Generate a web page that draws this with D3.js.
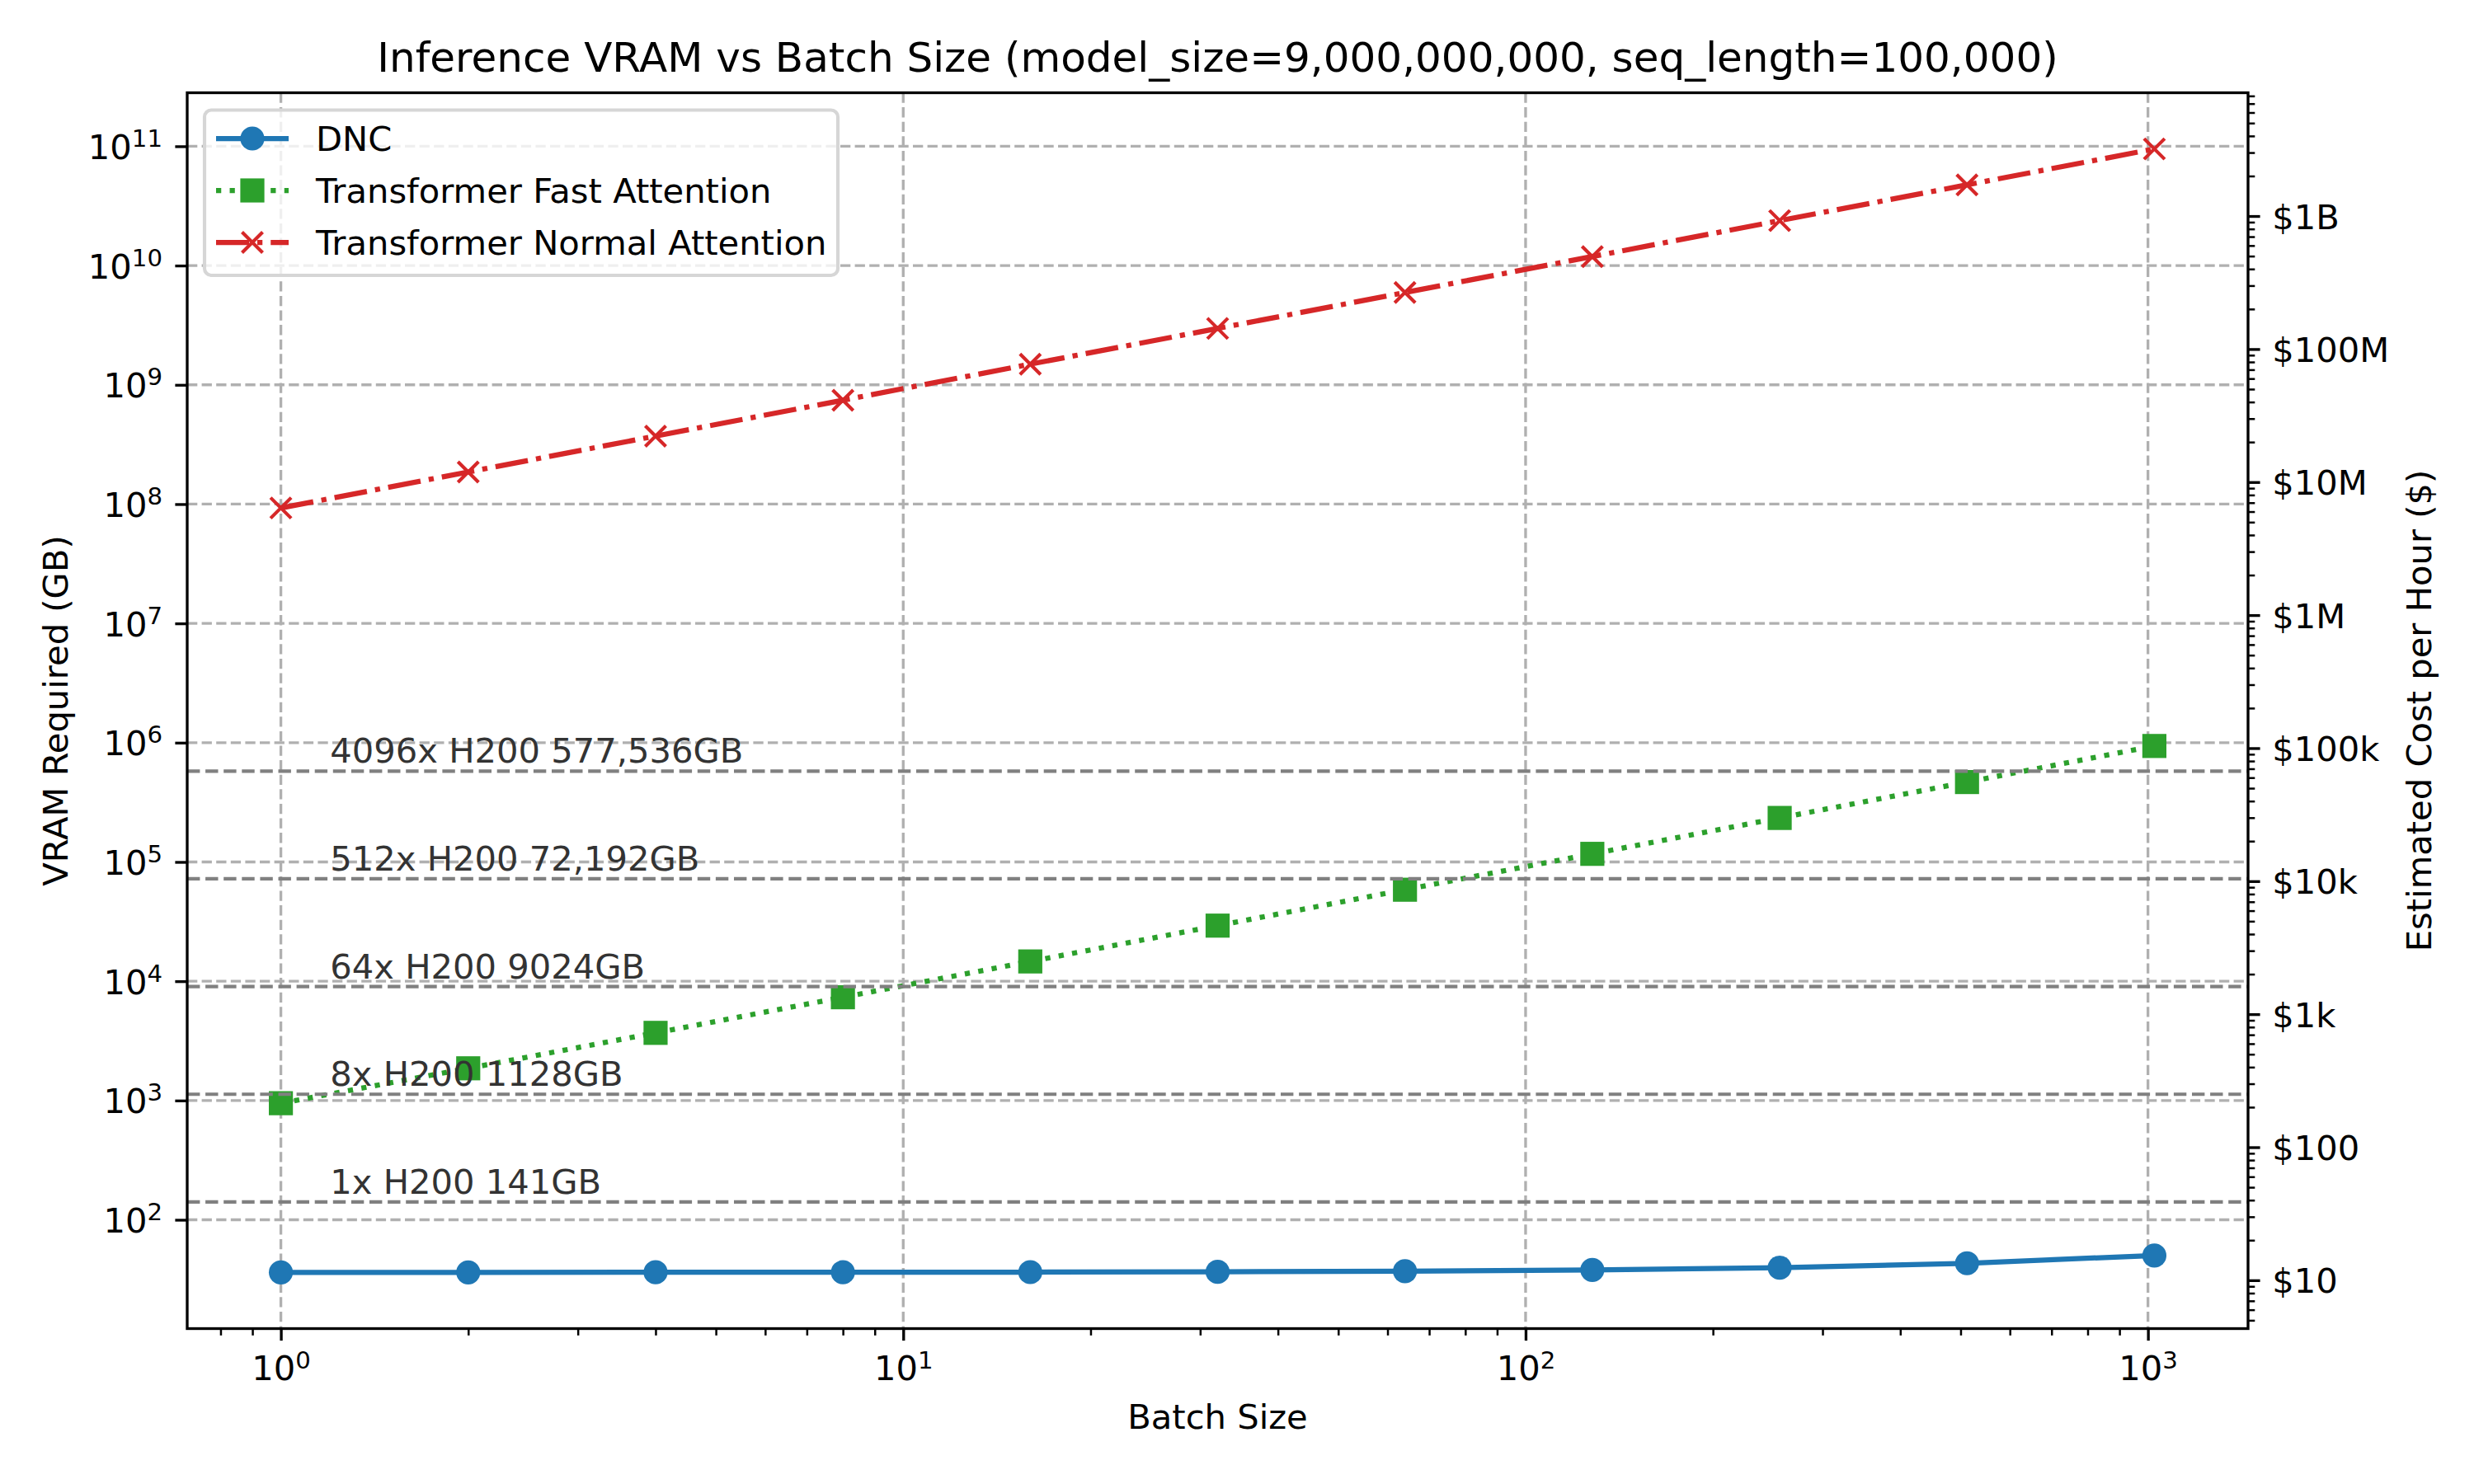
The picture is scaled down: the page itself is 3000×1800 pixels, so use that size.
<!DOCTYPE html>
<html>
<head>
<meta charset="utf-8">
<script src="https://cdn.jsdelivr.net/npm/d3@7"></script>
<style>
  body { margin: 0; background: white; }
</style>
</head>
<body>
<div id="chart"></div>
<script>
// values
const batch = [1, 2, 4, 8, 16, 32, 64, 128, 256, 512, 1024];
const dncVram = [36.2, 36.2, 36.3, 36.3, 36.4, 36.6, 37.1, 38.0, 39.7, 43.2, 50.2];
const fastVram = [949, 1862, 3690, 7340, 14650, 29250, 58500, 116900, 233800, 467500, 938000];
const normalVram = [9.28e7, 1.86e8, 3.72e8, 7.43e8, 1.49e9, 2.97e9, 5.94e9, 1.19e10, 2.38e10, 4.75e10, 9.5e10];

const seriesNames = ['DNC', 'Transformer Fast Attention', 'Transformer Normal Attention'];

const gpuVram = [141, 1128, 9024, 72192, 577536];
const gpuLabels = ['1x H200 141GB', '8x H200 1128GB', '64x H200 9024GB', '512x H200 72,192GB', '4096x H200 577,536GB'];

const batchTicks = [1, 10, 100, 1000];
const vramTicks = [1e2, 1e3, 1e4, 1e5, 1e6, 1e7, 1e8, 1e9, 1e10, 1e11];
const costTicks = [1e1, 1e2, 1e3, 1e4, 1e5, 1e6, 1e7, 1e8, 1e9];
const costTickLabels = ['$10', '$100', '$1k', '$10k', '$100k', '$1M', '$10M', '$100M', '$1B'];
const costRange = [4.33, 8.45e9];

const titleText = 'Inference VRAM vs Batch Size (model_size=9,000,000,000, seq_length=100,000)';

const margin = ({top: 112.5, left: 227, right: 274, bottom: 188.5});
const W = 3000, H = 1800;
const width = W - margin.left - margin.right;
const height = H - margin.top - margin.bottom;
const font = 'DejaVu Sans, sans-serif';
const fs = 41.67;

// log padding like matplotlib's 5% margins
function logPad(ext) {
    const a = Math.log10(ext[0]), b = Math.log10(ext[1]), p = (b - a) * 0.05;
    return [Math.pow(10, a - p), Math.pow(10, b + p)];
}

const allVram = dncVram.concat(fastVram, normalVram);

const x = d3.scaleLog()
    .domain(logPad(d3.extent(batch)))
    .range([0, width]);

const y = d3.scaleLog()
    .domain(logPad(d3.extent(allVram)))
    .range([height, 0]);

const cost = d3.scaleLog()
    .domain(costRange)
    .range([height, 0]);

function minorTicks(scale) {
    const [a, b] = scale.domain();
    const out = [];
    for (let e = Math.floor(Math.log10(a)); e <= Math.ceil(Math.log10(b)); e++) {
        for (let k = 2; k <= 9; k++) {
            const v = k * Math.pow(10, e);
            if (v >= a && v <= b) out.push(v);
        }
    }
    return out;
}

const svg = d3.select('#chart')
    .append('svg')
    .attr('width', W)
    .attr('height', H);

svg.append('rect').attr('width', W).attr('height', H).attr('fill', 'white');

const g = svg.append('g')
    .attr('transform', 'translate(' + margin.left + ',' + margin.top + ')');

// grid
g.append('g').attr('class', 'grid')
    .selectAll('line.v')
    .data(batchTicks)
    .join('line')
    .attr('x1', d => x(d)).attr('x2', d => x(d))
    .attr('y1', 0).attr('y2', height);

g.select('.grid')
    .selectAll('line.h')
    .data(vramTicks)
    .enter()
    .append('line')
    .attr('x1', 0).attr('x2', width)
    .attr('y1', d => y(d)).attr('y2', d => y(d));

g.selectAll('.grid line')
    .attr('stroke', '#b0b0b0')
    .attr('stroke-width', 3.33)
    .attr('stroke-dasharray', '12.3,5.3');

// series
const series = [
    {name: seriesNames[0], values: dncVram, color: '#1f77b4', dash: null, marker: 'circle'},
    {name: seriesNames[1], values: fastVram, color: '#2ca02c', dash: '6.25,10.3', marker: 'square'},
    {name: seriesNames[2], values: normalVram, color: '#d62728', dash: '40,10,6.25,10', marker: 'x'}
];

const line = d3.line()
    .x((d, i) => x(batch[i]))
    .y(d => y(d));

function marker(sel, type, color) {
    if (type === 'circle') {
        sel.append('circle').attr('r', 14.6).attr('fill', color);
    } else if (type === 'square') {
        sel.append('rect').attr('x', -14.6).attr('y', -14.6)
            .attr('width', 29.2).attr('height', 29.2).attr('fill', color);
    } else {
        sel.append('path').attr('d', 'M-12.5,-12.5L12.5,12.5M-12.5,12.5L12.5,-12.5')
            .attr('stroke', color).attr('stroke-width', 4.17).attr('fill', 'none');
    }
}

series.forEach(s => {
    g.append('path')
        .datum(s.values)
        .attr('d', line)
        .attr('fill', 'none')
        .attr('stroke', s.color)
        .attr('stroke-width', 6.25)
        .attr('stroke-dasharray', s.dash);

    g.append('g')
        .selectAll('g')
        .data(s.values)
        .join('g')
        .attr('transform', (d, i) => 'translate(' + x(batch[i]) + ',' + y(d) + ')')
        .each(function() { marker(d3.select(this), s.marker, s.color); });
});

// H200 reference lines
g.append('g')
    .selectAll('line')
    .data(gpuVram)
    .join('line')
    .attr('x1', 0).attr('x2', width)
    .attr('y1', d => y(d)).attr('y2', d => y(d))
    .attr('stroke', '#808080')
    .attr('stroke-width', 4.17)
    .attr('stroke-dasharray', '15.4,6.7');

g.append('g')
    .selectAll('text')
    .data(gpuVram)
    .join('text')
    .attr('x', x(1.2))
    .attr('y', d => y(d) - 10)
    .attr('fill', '#333333')
    .attr('font-family', font)
    .attr('font-size', fs)
    .text((d, i) => gpuLabels[i]);

// axes
function styleAxis(axisG, w) {
    axisG.select('.domain').remove();
    axisG.selectAll('.tick line').attr('stroke', 'black').attr('stroke-width', w);
    axisG.selectAll('text')
        .attr('font-family', font)
        .attr('font-size', fs)
        .attr('fill', 'black');
}

function supLabel(text, shift) {
    text.each(function() {
        const t = d3.select(this);
        const e = t.text();
        t.text(null);
        t.append('tspan').text('10');
        t.append('tspan').attr('dy', -shift).attr('font-size', 29.2).text(e);
    });
}

const expFormat = d => String(Math.round(Math.log10(d)));

const xAxis = g.append('g')
    .attr('transform', 'translate(0,' + height + ')')
    .call(d3.axisBottom(x).tickValues(batchTicks).tickFormat(expFormat)
        .tickSize(14.6).tickPadding(14.6).tickSizeOuter(0));
styleAxis(xAxis, 3.33);
xAxis.selectAll('text').attr('y', 62.5).attr('dy', null).call(supLabel, 14);

const xMinor = g.append('g')
    .attr('transform', 'translate(0,' + height + ')')
    .call(d3.axisBottom(x).tickValues(minorTicks(x)).tickFormat('').tickSize(8.3).tickSizeOuter(0));
styleAxis(xMinor, 2.5);

const yAxis = g.append('g')
    .call(d3.axisLeft(y).tickValues(vramTicks).tickFormat(expFormat)
        .tickSize(14.6).tickPadding(14.6).tickSizeOuter(0));
styleAxis(yAxis, 3.33);
yAxis.selectAll('text').attr('x', -30).attr('dy', 15).call(supLabel, 15);

const rAxis = g.append('g')
    .attr('transform', 'translate(' + width + ',0)')
    .call(d3.axisRight(cost).tickValues(costTicks).tickFormat((d, i) => costTickLabels[i])
        .tickSize(14.6).tickPadding(14.6).tickSizeOuter(0));
styleAxis(rAxis, 3.33);
rAxis.selectAll('text').attr('dy', 15);

const rMinor = g.append('g')
    .attr('transform', 'translate(' + width + ',0)')
    .call(d3.axisRight(cost).tickValues(minorTicks(cost)).tickFormat('').tickSize(8.3).tickSizeOuter(0));
styleAxis(rMinor, 2.5);

// spines
g.append('rect')
    .attr('width', width)
    .attr('height', height)
    .attr('fill', 'none')
    .attr('stroke', 'black')
    .attr('stroke-width', 3.33);

// labels
svg.append('text')
    .attr('x', margin.left + width / 2)
    .attr('y', 87)
    .attr('text-anchor', 'middle')
    .attr('font-family', font)
    .attr('font-size', 50)
    .text(titleText);

svg.append('text')
    .attr('x', margin.left + width / 2)
    .attr('y', 1733)
    .attr('text-anchor', 'middle')
    .attr('font-family', font)
    .attr('font-size', fs)
    .text('Batch Size');

svg.append('text')
    .attr('transform', 'translate(82,' + (margin.top + height / 2) + ') rotate(-90)')
    .attr('text-anchor', 'middle')
    .attr('font-family', font)
    .attr('font-size', fs)
    .text('VRAM Required (GB)');

svg.append('text')
    .attr('transform', 'translate(2948,' + (margin.top + height / 2) + ') rotate(-90)')
    .attr('text-anchor', 'middle')
    .attr('font-family', font)
    .attr('font-size', fs)
    .text('Estimated Cost per Hour ($)');

// legend
const legend = svg.append('g');
legend.append('rect')
    .attr('x', 248).attr('y', 133.5)
    .attr('width', 768).attr('height', 200.5)
    .attr('rx', 8.3)
    .attr('fill', 'white')
    .attr('fill-opacity', 0.8)
    .attr('stroke', '#d6d6d6')
    .attr('stroke-width', 4.17);

const rows = legend.selectAll('g.row')
    .data(series)
    .join('g')
    .attr('class', 'row')
    .attr('transform', (d, i) => 'translate(0,' + (168 + i * 63) + ')');

rows.append('line')
    .attr('x1', 262).attr('x2', 350)
    .attr('stroke', d => d.color)
    .attr('stroke-width', 6.25)
    .attr('stroke-dasharray', d => d.dash);

rows.append('g')
    .attr('transform', 'translate(306,0)')
    .each(function(d) { marker(d3.select(this), d.marker, d.color); });

rows.append('text')
    .attr('x', 383)
    .attr('y', 15)
    .attr('font-family', font)
    .attr('font-size', fs)
    .text(d => d.name);
</script>
</body>
</html>
